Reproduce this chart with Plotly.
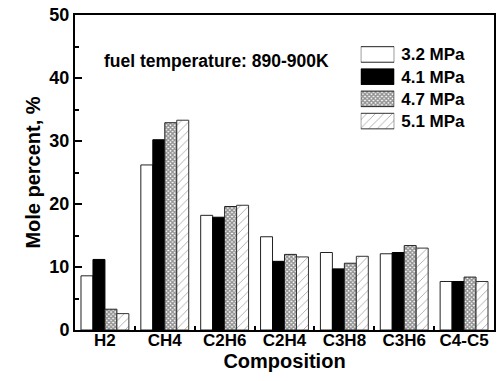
import plotly.graph_objects as go

categories = ["H2", "CH4", "C2H6", "C2H4", "C3H8", "C3H6", "C4-C5"]
pressures = ["3.2 MPa", "4.1 MPa", "4.7 MPa", "5.1 MPa"]
mole_32 = [8.6, 26.2, 18.2, 14.8, 12.3, 12.1, 7.7]
mole_41 = [11.2, 30.2, 17.9, 10.9, 9.7, 12.3, 7.7]
mole_47 = [3.3, 32.9, 19.6, 12.0, 10.6, 13.4, 8.4]
mole_51 = [2.6, 33.3, 19.8, 11.6, 11.7, 13.0, 7.7]
series = [mole_32, mole_41, mole_47, mole_51]

# fill style per pressure: plain white, solid black, fine crosshatch, diagonal hatch
styles = [
    dict(color="white", line=dict(color="#222", width=1)),
    dict(color="black", line=dict(color="black", width=1)),
    dict(color="white", line=dict(color="#222", width=1),
         pattern=dict(shape="x", fgcolor="#222", bgcolor="white", size=3, solidity=0.7)),
    dict(color="white", line=dict(color="#333", width=1),
         pattern=dict(shape="/", fgcolor="#555", bgcolor="white", size=6, solidity=0.15)),
]

FONT = "Liberation Sans, Arial, sans-serif"

fig = go.Figure()
for name, vals, st in zip(pressures, series, styles):
    fig.add_trace(go.Bar(x=categories, y=vals, name=name, marker=st,
                         showlegend=False, xaxis="x", yaxis="y"))

# legend key drawn as a small inset of swatches with labels on the right
for name, st in zip(pressures, styles):
    fig.add_trace(go.Bar(y=[name], x=[1], orientation="h", marker=st, width=0.7,
                         showlegend=False, xaxis="x2", yaxis="y2", hoverinfo="skip"))

fig.add_annotation(text="<b>fuel temperature: 890-900K</b>", xref="paper", yref="paper",
                   x=0.065, y=0.855, xanchor="left", yanchor="middle", showarrow=False,
                   font=dict(family=FONT, size=17.5, color="black"))

fig.update_layout(
    width=498, height=381,
    margin=dict(l=75, r=2, t=15, b=51),
    paper_bgcolor="white", plot_bgcolor="white",
    barmode="group", bargap=0.2, bargroupgap=0,
    font=dict(family=FONT, color="black"),
    xaxis=dict(
        type="category", tickson="boundaries", ticks="inside", ticklen=4, tickwidth=2,
        tickcolor="black", showline=True, linecolor="black", linewidth=2, mirror=True,
        showgrid=False, zeroline=False, ticklabelstandoff=-6,
        tickfont=dict(family=FONT, size=17, color="black"),
        tickprefix="<b>", ticksuffix="</b>",
        title=dict(text="<b>Composition</b>", font=dict(family=FONT, size=20), standoff=1),
    ),
    yaxis=dict(
        range=[0, 50], dtick=10, ticks="inside", ticklen=7, tickwidth=2, tickcolor="black",
        minor=dict(dtick=5, ticks="inside", ticklen=4, tickwidth=2, tickcolor="black"),
        showline=True, linecolor="black", linewidth=2, mirror=True,
        showgrid=False, zeroline=False,
        tickfont=dict(family=FONT, size=18, color="black"),
        tickprefix="<b>", ticksuffix="</b>",
        title=dict(text="<b>Mole percent, %</b>", font=dict(family=FONT, size=20), standoff=3),
    ),
    xaxis2=dict(domain=[0.682, 0.762], anchor="y2", range=[0, 1], visible=False, fixedrange=True),
    yaxis2=dict(domain=[0.628, 0.91], anchor="x2", type="category", side="right",
                autorange="reversed", showline=False, showgrid=False, zeroline=False,
                ticks="", ticklabelstandoff=6,
                tickfont=dict(family=FONT, size=17, color="black"),
                tickprefix="<b>", ticksuffix="</b>"),
)

fig.write_html("out.html")
